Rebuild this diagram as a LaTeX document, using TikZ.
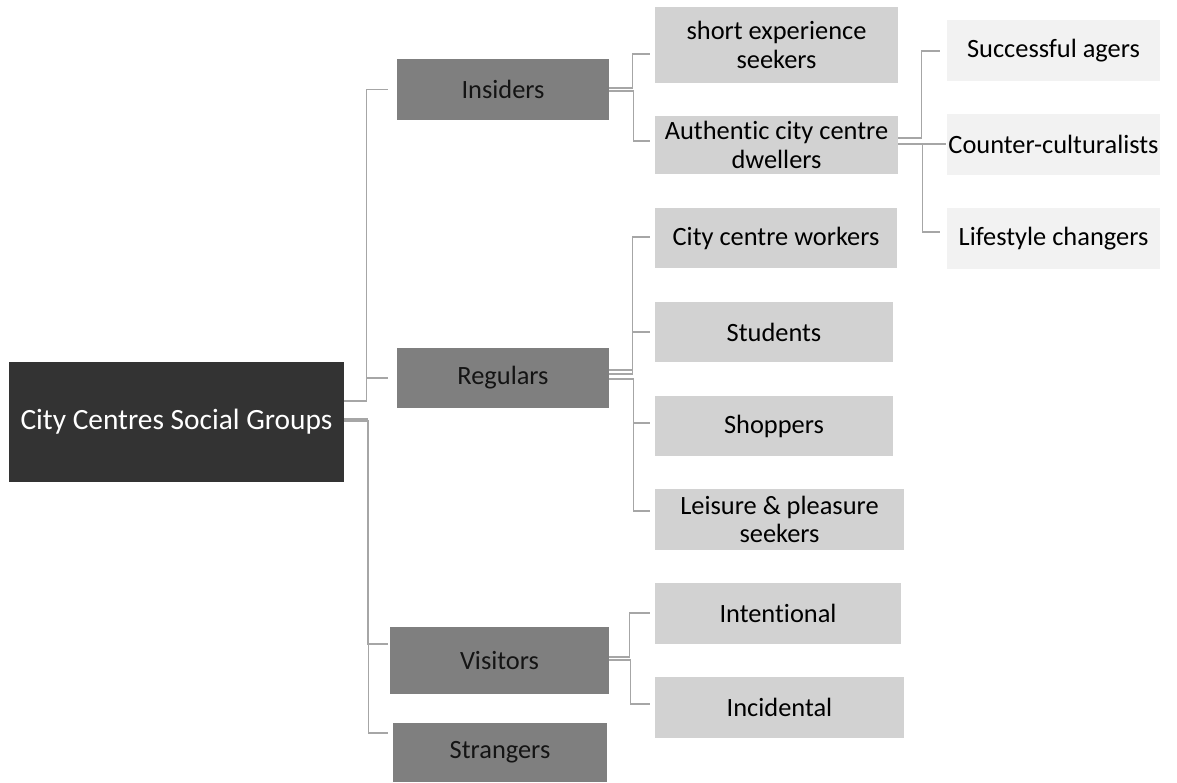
\documentclass[tikz,border=0pt]{standalone}
\usepackage{fontspec}
\setmainfont{Carlito}[Ligatures={NoCommon,NoRequired,NoContextual}]
\definecolor{rootc}{HTML}{333333}
\definecolor{lonec}{HTML}{7F7F7F}
\definecolor{ltwoc}{HTML}{D2D2D2}
\definecolor{lthreec}{HTML}{F2F2F2}
\definecolor{linec}{HTML}{A6A6A6}
\tikzset{
  box/.style={rectangle, inner sep=0pt, align=center, font=\fontsize{26.4}{28.5}\selectfont},
  rootbox/.style={box, fill=rootc, text=white, font=\fontsize{29.4}{32}\selectfont},
  lone/.style={box, fill=lonec, text=black!92},
  ltwo/.style={box, fill=ltwoc, text=black},
  lthree/.style={box, fill=lthreec, text=black},
  conn/.style={draw=linec, line width=1.4pt}
}
\begin{document}
\begin{tikzpicture}[x=1pt,y=-1pt]
\useasboundingbox (0,0) rectangle (1177,782);
% nodes
\node[rootbox, minimum width=335pt, minimum height=120pt] (root) at (176.5,422) {City Centres Social Groups};
\node[lone, minimum width=212pt, minimum height=61pt] (ins) at (503,89.5) {Insiders};
\node[lone, minimum width=212pt, minimum height=60pt] (reg) at (503,378) {Regulars};
\node[lone, minimum width=219pt, minimum height=67pt] (vis) at (499.5,660.5) {Visitors};
\node[lone, minimum width=214pt, minimum height=59pt] (str) at (500,752.5) {Strangers};

\node[ltwo, minimum width=243pt, minimum height=76pt] (ses) at (776.5,45) {short experience\\seekers};
\node[ltwo, minimum width=243pt, minimum height=58pt] (acd) at (776.5,145) {Authentic city centre\\dwellers};
\node[ltwo, minimum width=242pt, minimum height=60pt] (ccw) at (776,238) {City centre workers};
\node[ltwo, minimum width=238pt, minimum height=60pt] (stu) at (774,332) {Students};
\node[ltwo, minimum width=238pt, minimum height=60pt] (sho) at (774,426) {Shoppers};
\node[ltwo, minimum width=249pt, minimum height=61pt] (lps) at (779.5,519.5) {Leisure \& pleasure\\seekers};
\node[ltwo, minimum width=246pt, minimum height=61pt] (int) at (778,613.5) {Intentional};
\node[ltwo, minimum width=249pt, minimum height=61pt] (inc) at (779.5,707.5) {Incidental};

\node[lthree, minimum width=213pt, minimum height=61pt] (sa) at (1053.5,50.5) {Successful agers};
\node[lthree, minimum width=213pt, minimum height=61pt] (cc) at (1053.5,144.5) {Counter-culturalists};
\node[lthree, minimum width=213pt, minimum height=61pt] (lc) at (1053.5,238.5) {Lifestyle changers};

% root connectors
\draw[conn] ([yshift=21pt]root.east) -- ++(22.5,0) |- ([xshift=-9pt]ins.west);
\draw[conn] ([yshift=21pt]root.east) -- ++(22.5,0) |- ([xshift=-9pt]reg.west);
\draw[conn] ([yshift=3pt]root.east) -- ++(23.5,0) |- ([xshift=-2pt,yshift=16.5pt]vis.west);
\draw[conn] ([yshift=1pt]root.east) -- ++(24,0) |- ([xshift=-5pt,yshift=19.5pt]str.west);

% insiders
\draw[conn] ([yshift=1.5pt]ins.east) -- ++(23,0) |- ([xshift=-5pt,yshift=-9pt]ses.west);
\draw[conn] ([yshift=-1.5pt]ins.east) -- ++(24,0) |- ([xshift=-5pt,yshift=4pt]acd.west);

% authentic
\draw[conn] ([yshift=7pt]acd.east) -- ++(23,0) |- ([xshift=-7pt,yshift=-0.5pt]sa.west);
\draw[conn] ([yshift=1pt]acd.east) -- ([xshift=-1pt,yshift=0.5pt]cc.west);
\draw[conn] ([yshift=1pt]acd.east) -- ++(24,0) |- ([xshift=-7pt,yshift=6.5pt]lc.west);

% regulars
\draw[conn] ([yshift=8pt]reg.east) -- ++(23,0) |- ([xshift=-5pt,yshift=1pt]ccw.west);
\draw[conn] ([yshift=4pt]reg.east) -- ++(23,0) |- ([xshift=-5pt]stu.west);
\draw[conn] ([yshift=-1pt]reg.east) -- ++(24,0) |- ([xshift=-5pt,yshift=3pt]sho.west);
\draw[conn] ([yshift=-1pt]reg.east) -- ++(24,0) |- ([xshift=-5pt,yshift=8.5pt]lps.west);

% visitors
\draw[conn] ([yshift=3.5pt]vis.east) -- ++(20,0) |- ([xshift=-5pt,yshift=0.5pt]int.west);
\draw[conn] ([yshift=0.5pt]vis.east) -- ++(21,0) |- ([xshift=-5pt,yshift=3.5pt]inc.west);
\end{tikzpicture}
\end{document}
